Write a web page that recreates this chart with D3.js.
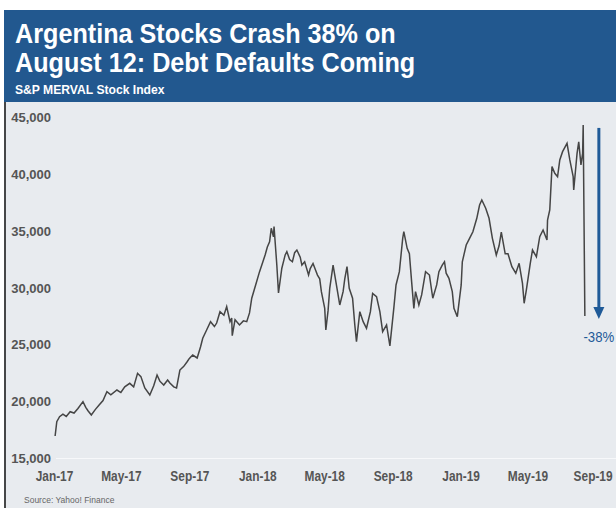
<!DOCTYPE html>
<html lang="en">
<head>
    <meta charset="UTF-8">
    <title>Argentina Stocks Crash</title>
    <script src="https://d3js.org/d3.v7.min.js"></script>
    <style>
        body{
            margin:0;
            background:#fff;
        }
        .axis text{
            font-family:"Liberation Sans", Arial, sans-serif;
            font-weight:bold;
            font-size:13px;
            fill:#555;
        }
        .xaxis text{
            font-size:14px;
        }
    </style>
</head>
<body>
<script>
    // S&P MERVAL closes (roughly weekly, plus the big swings)
    const dates = [
        "2017-01-03","2017-01-06","2017-01-11","2017-01-17","2017-01-23","2017-01-30","2017-02-06","2017-02-13",
        "2017-02-22","2017-02-27","2017-03-03","2017-03-09","2017-03-16","2017-03-23","2017-03-30","2017-04-06",
        "2017-04-13","2017-04-24","2017-05-01","2017-05-08","2017-05-17","2017-05-24","2017-05-31","2017-06-06",
        "2017-06-13","2017-06-22","2017-06-29","2017-07-05","2017-07-10","2017-07-17","2017-07-24","2017-07-28",
        "2017-08-04","2017-08-09","2017-08-15","2017-08-22","2017-08-28","2017-09-01","2017-09-07","2017-09-15",
        "2017-09-21","2017-09-25","2017-10-02","2017-10-09","2017-10-16","2017-10-20","2017-10-26","2017-11-02",
        "2017-11-07","2017-11-13","2017-11-16","2017-11-17","2017-11-22","2017-11-30","2017-12-07","2017-12-13",
        "2017-12-18","2017-12-22","2017-12-29","2018-01-05","2018-01-11","2018-01-15","2018-01-19","2018-01-23",
        "2018-01-26","2018-01-30","2018-01-31","2018-02-05","2018-02-08","2018-02-14","2018-02-20","2018-02-23",
        "2018-02-28","2018-03-05","2018-03-09","2018-03-13","2018-03-19","2018-03-22","2018-03-27","2018-04-03",
        "2018-04-06","2018-04-11","2018-04-16","2018-04-19","2018-04-23","2018-04-26","2018-05-02","2018-05-04",
        "2018-05-08","2018-05-11","2018-05-17","2018-05-22","2018-05-29","2018-06-04","2018-06-07","2018-06-11",
        "2018-06-15","2018-06-21","2018-06-25","2018-06-28","2018-07-04","2018-07-10","2018-07-16","2018-07-23",
        "2018-07-27","2018-08-03","2018-08-09","2018-08-14","2018-08-21","2018-08-27","2018-09-03","2018-09-07",
        "2018-09-13","2018-09-19","2018-09-21","2018-09-27","2018-10-01","2018-10-05","2018-10-09","2018-10-12",
        "2018-10-18","2018-10-23","2018-10-30","2018-11-06","2018-11-12","2018-11-19","2018-11-23","2018-11-29",
        "2018-12-03","2018-12-06","2018-12-11","2018-12-17","2018-12-20","2018-12-26","2019-01-02","2019-01-04",
        "2019-01-11","2019-01-17","2019-01-23","2019-01-30","2019-02-04","2019-02-08","2019-02-15","2019-02-21",
        "2019-02-27","2019-03-06","2019-03-11","2019-03-15","2019-03-22","2019-03-27","2019-04-03","2019-04-10",
        "2019-04-16","2019-04-22","2019-04-25","2019-04-29","2019-05-06","2019-05-10","2019-05-17","2019-05-23",
        "2019-05-29","2019-06-05","2019-06-06","2019-06-10","2019-06-14","2019-06-19","2019-06-24","2019-06-28",
        "2019-07-03","2019-07-11","2019-07-16","2019-07-22","2019-07-23","2019-07-29","2019-08-01","2019-08-05",
        "2019-08-08","2019-08-09","2019-08-12"
    ];
    const closes = [
        16980,18240,18675,18900,18700,19115,19000,19400,
        20000,19500,19200,18825,19300,19700,20100,20870,
        20600,21020,20800,21300,21610,21300,22490,22200,
        21200,20580,21400,22340,21800,21460,21900,21640,
        21300,21200,22780,23100,23510,23800,24100,23840,
        24800,25570,26300,27030,26600,26910,27910,27600,
        28350,27030,27350,25800,27200,26740,27100,27030,
        27800,29090,30260,31430,32300,32890,33600,34060,
        35240,34500,35400,32010,29550,31730,32900,33190,
        32500,32300,33100,33330,32700,32010,32300,31130,
        31700,32150,31500,31130,30800,29670,28200,26300,
        28000,29960,32010,30550,28500,29670,30800,31870,
        29960,29090,26740,25270,27910,27030,26450,27910,
        29520,29230,27910,26150,26740,24900,28200,30260,
        31430,34360,34940,33480,33000,30550,28200,29670,
        28500,29380,31430,31130,29090,30260,31430,32010,
        32300,31290,30840,29670,28200,27470,30260,32300,
        33770,34360,34940,36120,37290,37730,37000,36120,
        34360,32890,33700,34900,33000,33000,31870,31290,
        32160,30400,28650,29820,32160,33330,32740,34500,
        35090,34210,35970,36850,40660,40080,39780,41250,
        41980,42710,41250,39780,38610,41830,42850,40810,
        41830,44330,27530
    ];

    const yTicks = [15000, 20000, 25000, 30000, 35000, 40000, 45000];
    const titleLines = ["Argentina Stocks Crash 38% on", "August 12: Debt Defaults Coming"];
    const subtitle = "S&P MERVAL Stock Index";
    const source = "Source: Yahoo! Finance";
    const crashLabel = "-38%";

    const width = 616;
    const height = 508;

    const parse = d3.timeParse("%Y-%m-%d");
    const data = dates.map((d, i) => ({date: parse(d), value: closes[i]}));

    let svg = d3.select('body').append("svg")
        .attr("width", width)
        .attr("height", height)

    // header band and plot panel
    svg.append("rect")
        .attr("x", 4).attr("y", 10)
        .attr("width", width - 4).attr("height", 92)
        .attr("fill", "#22588f")
    svg.append("rect")
        .attr("x", 4).attr("y", 102)
        .attr("width", width - 4).attr("height", height - 102)
        .attr("fill", "#e8ebef")
    svg.append("line")
        .attr("x1", 5).attr("x2", 5)
        .attr("y1", 102).attr("y2", height)
        .attr("stroke", "#111")
        .attr("stroke-width", 1.5)

    // no condensed face installed, so squeeze the header text sideways
    const header = svg.append("g")
        .attr("transform", "translate(15,0) scale(0.9,1)")

    header.selectAll(".title")
        .data(titleLines)
        .enter()
        .append("text")
        .attr("class", "title")
        .attr("x", 0)
        .attr("y", (d, i) => 43 + i * 29)
        .attr("fill", "#fff")
        .style("font-family", '"Liberation Sans", Arial, sans-serif')
        .style("font-weight", "bold")
        .style("font-size", "28px")
        .text(d => d)

    header.append("text")
        .attr("x", 0).attr("y", 94)
        .attr("fill", "#fff")
        .style("font-family", '"Liberation Sans", Arial, sans-serif')
        .style("font-weight", "bold")
        .style("font-size", "13.5px")
        .text(subtitle)

    const x = d3.scaleTime()
        .domain([new Date(2017, 0, 1), new Date(2019, 8, 1)])
        .range([54, 596]);

    const y = d3.scaleLinear()
        .domain([15000, 45000])
        .range([458.5, 117.3]);

    // baseline gridline
    svg.append("line")
        .attr("x1", 56).attr("x2", width)
        .attr("y1", y(15000)).attr("y2", y(15000))
        .attr("stroke", "#f7f8fa")
        .attr("stroke-width", 1)

    const yAxis = svg.append("g")
        .attr("class", "axis")
        .attr("transform", "translate(54,0)")
        .call(d3.axisLeft(y).tickValues(yTicks).tickFormat(d3.format(",")).tickSize(0).tickPadding(3))
    yAxis.select(".domain").remove()

    const xAxis = svg.append("g")
        .attr("class", "axis xaxis")
        .attr("transform", `translate(0,${y(15000)})`)
        .call(d3.axisBottom(x).ticks(d3.timeMonth.every(4)).tickFormat(d3.timeFormat("%b-%y")).tickSize(0).tickPadding(13))
    xAxis.select(".domain").remove()
    xAxis.selectAll("text").attr("transform", "scale(0.85,1)")
    // last label sits against the right edge
    xAxis.selectAll(".tick").filter(d => d.getFullYear() == 2019 && d.getMonth() == 8)
        .select("text").attr("x", -4)

    const line = d3.line()
        .x(d => x(d.date))
        .y(d => y(d.value))

    svg.append("path")
        .datum(data)
        .attr("d", line)
        .attr("fill", "none")
        .attr("stroke", "#454545")
        .attr("stroke-width", 1.5)
        .attr("stroke-linejoin", "miter")

    // crash arrow
    const last = data[data.length - 1];
    const peak = data[data.length - 2];
    const ax = x(last.date) + 14;
    const blue = "#1f5a98";

    svg.append("line")
        .attr("x1", ax).attr("x2", ax)
        .attr("y1", y(peak.value) + 3)
        .attr("y2", y(last.value) - 8)
        .attr("stroke", blue)
        .attr("stroke-width", 3)
    svg.append("path")
        .attr("d", `M${ax - 5.5},${y(last.value) - 9} L${ax + 5.5},${y(last.value) - 9} L${ax},${y(last.value) + 3} Z`)
        .attr("fill", blue)

    svg.append("text")
        .attr("x", ax).attr("y", y(last.value) + 26)
        .attr("text-anchor", "middle")
        .attr("fill", blue)
        .attr("transform", `translate(${ax},0) scale(0.88,1) translate(${-ax},0)`)
        .style("font-family", '"Liberation Sans", Arial, sans-serif')
        .style("font-size", "15px")
        .text(crashLabel)

    svg.append("text")
        .attr("x", 24).attr("y", 503)
        .attr("fill", "#666")
        .style("font-family", '"Liberation Sans", Arial, sans-serif')
        .style("font-size", "8.5px")
        .text(source)

</script>
</body>
</html>
